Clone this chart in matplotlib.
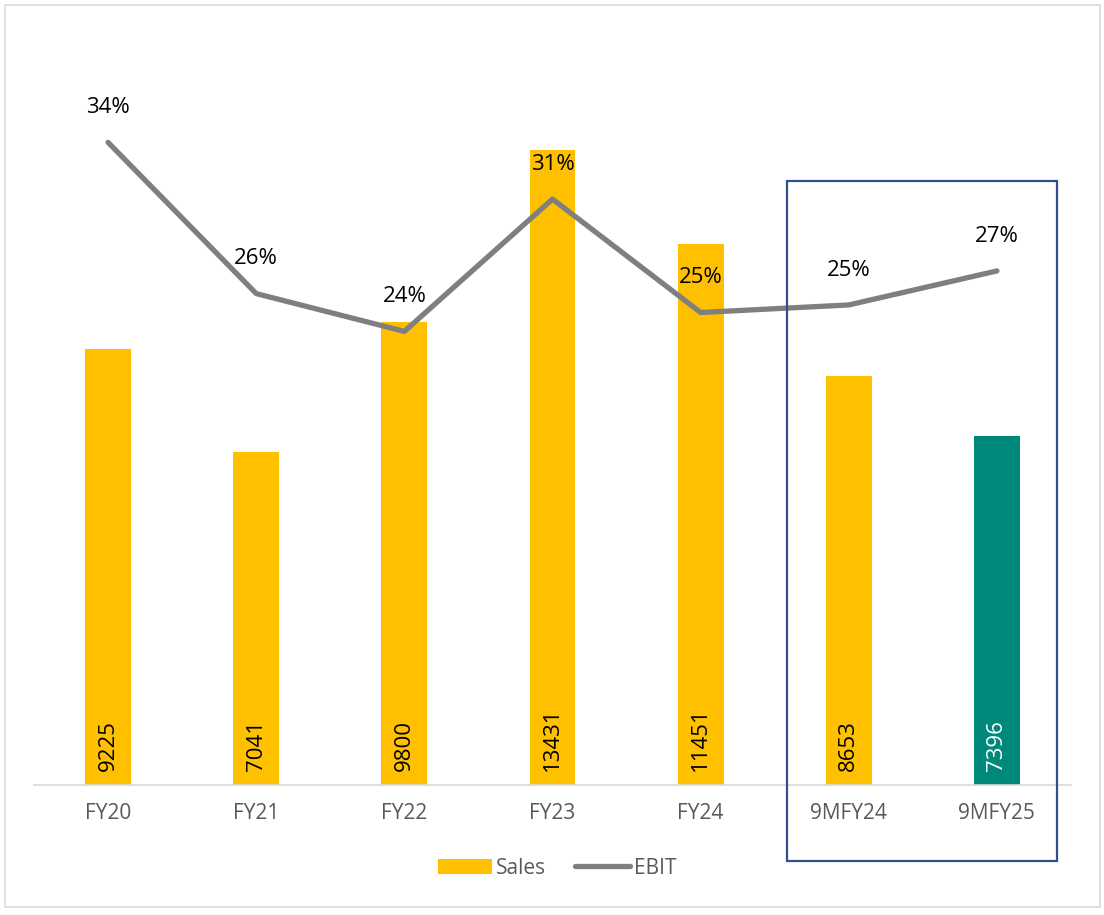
import matplotlib
matplotlib.use('Agg')
import matplotlib.pyplot as plt
from matplotlib.patches import Rectangle, Patch
from matplotlib.lines import Line2D

categories = ['FY20', 'FY21', 'FY22', 'FY23', 'FY24', '9MFY24', '9MFY25']
sales = [9225, 7041, 9800, 13431, 11451, 8653, 7396]
ebit = [0.34, 0.26, 0.24, 0.31, 0.25, 0.254, 0.272]
bar_colors = ['#FFC000'] * 6 + ['#00897B']
label_colors = ['black'] * 6 + ['white']

plt.rcParams['font.family'] = ['Open Sans', 'DejaVu Sans']

W, H = 1104, 915
fig = plt.figure(figsize=(W / 100, H / 100), dpi=100)
ax = fig.add_axes([34 / W, 1 - 785 / H, (1071 - 34) / W, (785 - 29) / H])
ax2 = ax.twinx()

x = list(range(len(categories)))
ax.bar(x, sales, width=0.31, color=bar_colors, zorder=2)
for xi, v, c in zip(x, sales, label_colors):
    ax.text(xi, 300, str(v), rotation=90, ha='center', va='bottom',
            fontsize=16, color=c, zorder=3)

ax.set_xlim(-0.5, 6.5)
ax.set_ylim(0, 16000)
ax.set_xticks(x)
ax.set_xticklabels(categories, fontsize=15, color='#595959')
ax.tick_params(axis='x', length=0, pad=13)
ax.set_yticks([])
for s in ['top', 'right', 'left']:
    ax.spines[s].set_visible(False)
ax.spines['bottom'].set_color('#D9D9D9')
ax.spines['bottom'].set_linewidth(1.2)

ax2.plot(x, ebit, color='#7F7F7F', linewidth=3.8, solid_capstyle='round', zorder=4)
for xi, v in zip(x, ebit):
    ax2.annotate(f'{round(v * 100)}%', (xi, v), xytext=(0, 25), textcoords='offset points',
                 ha='center', va='center', fontsize=16, color='black')
ax2.set_ylim(0, 0.40)
ax2.set_yticks([])
for s in ['top', 'right', 'left', 'bottom']:
    ax2.spines[s].set_visible(False)

# highlight box around the nine-month figures
fig.patches.append(Rectangle((787 / W, 1 - 861 / H), (1057 - 787) / W, (861 - 181) / H,
                             transform=fig.transFigure, fill=False,
                             edgecolor='#2F4F8F', linewidth=1.6, zorder=10))
# outer chart border
fig.patches.append(Rectangle((5 / W, 1 - 907 / H), (1100 - 5) / W, (907 - 5) / H,
                             transform=fig.transFigure, fill=False,
                             edgecolor='#D9D9D9', linewidth=1.2))

handles = [Patch(facecolor='#FFC000', label='Sales'),
           Line2D([0], [0], color='#7F7F7F', linewidth=3.8, solid_capstyle='round', label='EBIT')]
fig.legend(handles=handles, loc='center', bbox_to_anchor=(557 / W, 1 - 868 / H), ncol=2,
           frameon=False, fontsize=15, labelcolor='#595959', handlelength=2.6,
           handletextpad=0.2, columnspacing=1.4)

fig.savefig('out.png', dpi=100)
